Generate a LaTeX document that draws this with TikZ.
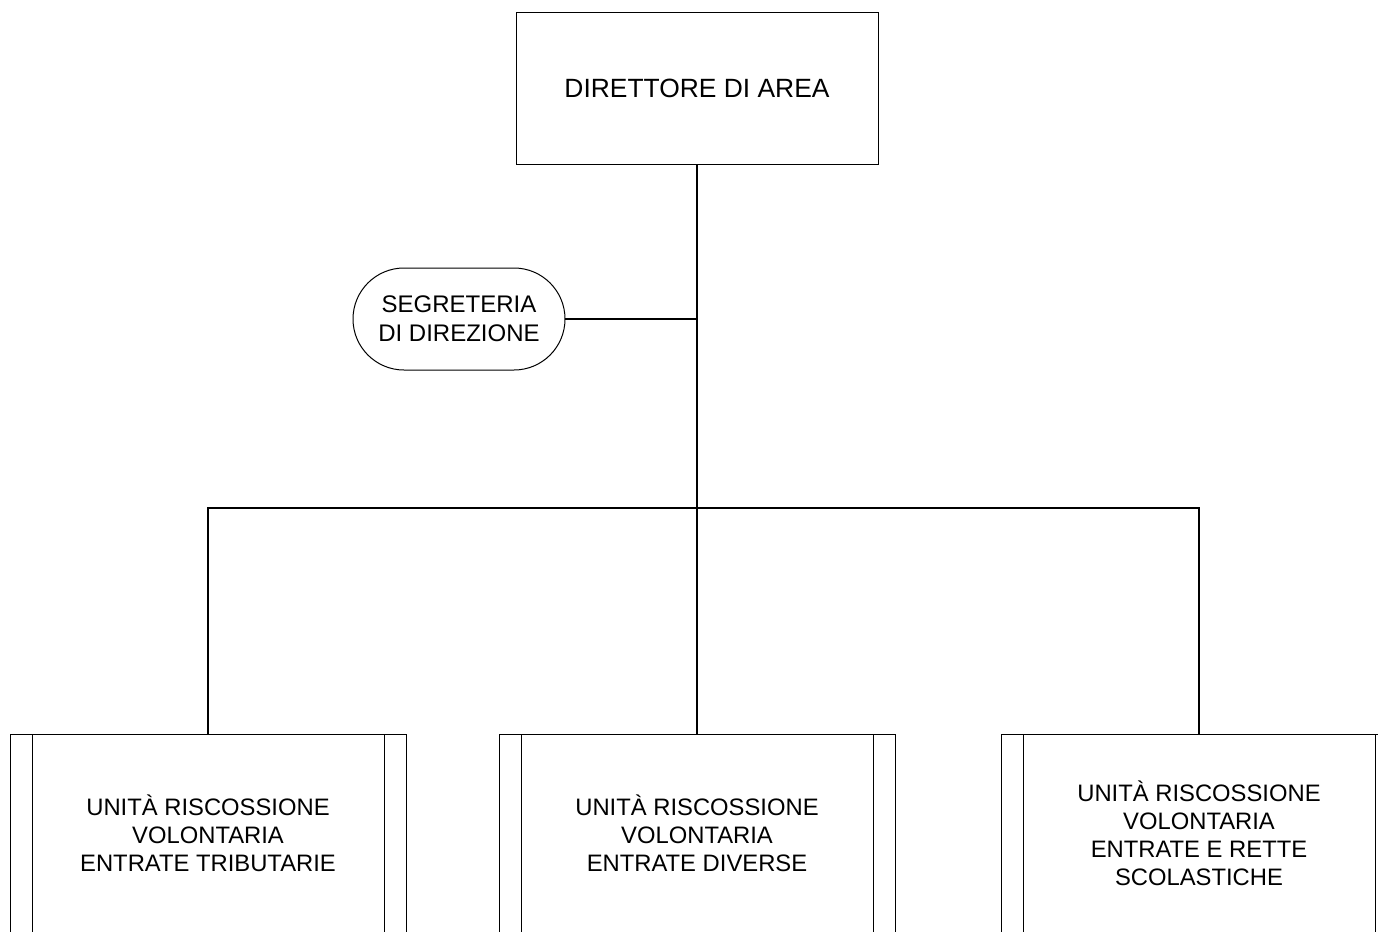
\documentclass[tikz,border=0pt]{standalone}
\usepackage{fontspec}
\setmainfont{Liberation Sans}
\usetikzlibrary{shapes.misc}

\tikzset{
 box/.style={draw, line width=0.5pt, inner sep=0pt, outer sep=0pt, align=center},
 topbox/.style={box, minimum width=181pt, minimum height=76pt, font=\fontsize{13.2}{15}\selectfont},
 segrbox/.style={box, rounded rectangle, minimum width=106pt, minimum height=51pt, font=\fontsize{12}{14.5}\selectfont},
 unitbox/.style={box, minimum width=198pt, minimum height=99pt, font=\fontsize{11.9}{14}\selectfont},
 link/.style={line width=0.6pt},
 trunk/.style={line width=1pt}
}

\begin{document}
\begin{tikzpicture}[x=0.5pt,y=-0.5pt]
\clip (0,0) rectangle (1378,932);
\useasboundingbox (0,0) rectangle (1378,932);
\node[topbox] (dir) at (697,88) {DIRETTORE DI AREA};
\node[segrbox] (segr) at (459,319) {SEGRETERIA\\DI DIREZIONE};
\coordinate (bus) at (697,508);
\node[unitbox] (u1) at (208,833) {UNITÀ RISCOSSIONE\\VOLONTARIA\\ENTRATE TRIBUTARIE};
\node[unitbox] (u2) at (697,833) {UNITÀ RISCOSSIONE\\VOLONTARIA\\ENTRATE DIVERSE};
\node[unitbox] (u3) at (1199,833) {UNITÀ RISCOSSIONE\\VOLONTARIA\\ENTRATE E RETTE\\SCOLASTICHE};
\foreach \u in {u1,u2,u3} % side bars
{
\draw[box] ([xshift=11pt]\u.north west) -- ([xshift=11pt]\u.south west);
\draw[box] ([xshift=-11pt]\u.north east) -- ([xshift=-11pt]\u.south east);
}
\draw[trunk] (dir.south) -- (bus);
\draw[link] (segr.east) -- (segr.east -| bus);
\draw[link] (u1.north) -- (u1.north |- bus) -- (u3.north |- bus) -- (u3.north);
\draw[link] (bus) -- (u2.north);
\end{tikzpicture}
\end{document}
